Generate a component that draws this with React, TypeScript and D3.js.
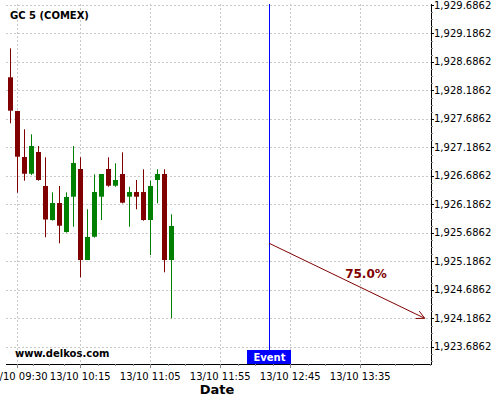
import React from "react";
import * as d3 from "d3";

const title = "GC 5 (COMEX)";
const candleTimes = ["09:25","09:30","09:35","09:40","09:45","09:50","09:55","10:00","10:05","10:10","10:15","10:20","10:25","10:30","10:35","10:40","10:45","10:50","10:55","11:00","11:05","11:10","11:15","11:20"];
const opens = [1928.418,1927.826,1927.019,1926.726,1927.107,1926.511,1925.914,1926.212,1925.704,1926.323,1926.809,1925.212,1925.621,1926.323,1926.809,1926.516,1926.721,1926.323,1926.405,1926.405,1925.914,1926.616,1926.721,1925.212];
const highs = [1928.926,1927.830,1927.505,1927.418,1927.212,1927.014,1926.400,1926.511,1926.400,1927.212,1927.014,1926.102,1926.716,1926.721,1927.014,1926.909,1927.102,1926.498,1926.616,1926.804,1926.604,1926.804,1926.804,1926.014];
const lows = [1927.611,1926.393,1926.604,1926.704,1926.604,1925.611,1925.902,1925.505,1925.692,1925.797,1924.909,1925.212,1925.604,1925.914,1926.498,1926.498,1926.207,1925.797,1926.102,1925.902,1925.300,1926.207,1924.997,1924.190];
const closes = [1927.832,1927.025,1926.726,1927.212,1926.616,1925.923,1926.212,1925.814,1926.318,1926.914,1925.212,1925.616,1926.405,1926.721,1926.516,1926.616,1926.218,1926.405,1926.323,1925.914,1926.511,1926.721,1925.212,1925.809];
const xTickTimes = ["09:30","10:15","11:05","11:55","12:45","13:35"];
const yTickValues = [1929.6862,1929.1862,1928.6862,1928.1862,1927.6862,1927.1862,1926.6862,1926.1862,1925.6862,1925.1862,1924.6862,1924.1862,1923.6862];
const eventTime = "12:30";
const arrowStart = { time: "12:30", value: 1925.505 };
const arrowEnd = { time: "14:21", value: 1924.19 };
const arrowLabel = "75.0%";
const domainTimes = ["09:22", "14:25:30"];
const yDomain = [1923.3879, 1929.7037];

const parse = (s: string) => {
  const p = s.split(":").map(Number);
  return new Date(2023, 9, 13, p[0], p[1], p[2] || 0);
};

const RED = "#800000";
const GREEN = "#008000";
const BLUE = "#0000ff";
const FONT = "DejaVu Sans, sans-serif";

export default function App() {
  const left = 6, right = 431, top = 4, bottom = 364;
  const x = d3.scaleTime().domain(domainTimes.map(parse)).range([left, right]);
  const y = d3.scaleLinear().domain(yDomain).range([bottom, top]);
  const fmt = d3.timeFormat("%d/%m %H:%M");

  const majorX = xTickTimes.map(parse);
  const minorX: Date[] = [];
  for (let i = 0; i < majorX.length - 1; i++) {
    const a = +majorX[i], b = +majorX[i + 1];
    for (let k = 1; k < 4; k++) minorX.push(new Date(a + ((b - a) * k) / 4));
  }
  {
    const step = 12.5 * 60000;
    let t = +majorX[majorX.length - 1] + step;
    while (t <= +x.domain()[1]) { minorX.push(new Date(t)); t += step; }
  }
  const minorY: number[] = [];
  for (let i = 0; i < yTickValues.length; i++) {
    for (let k = 1; k < 4; k++) {
      const v = yTickValues[i] - 0.125 * k;
      if (v >= yDomain[0]) minorY.push(v);
    }
  }

  const ax = x(parse(arrowStart.time)), ay = y(arrowStart.value);
  const bx = x(parse(arrowEnd.time)), by = y(arrowEnd.value);
  const ang = Math.atan2(by - ay, bx - ax);
  const hl = 9, ha = (27 * Math.PI) / 180;
  const h1 = [bx - hl * Math.cos(ang - ha), by - hl * Math.sin(ang - ha)];
  const h2 = [bx - hl * Math.cos(ang + ha), by - hl * Math.sin(ang + ha)];
  const ex = Math.round(x(parse(eventTime))) + 0.5;

  const bw = 5;

  return (
    <svg width={500} height={400} style={{ position: "absolute", left: 0, top: 0, background: "#fff" }} fontFamily={FONT}>
      <rect x={0} y={0} width={500} height={400} fill="#fff" />
      {/* grid */}
      {yTickValues.map((v, i) => (
        <line key={"gy" + i} x1={left} x2={right} y1={Math.round(y(v)) + 0.5} y2={Math.round(y(v)) + 0.5} stroke="#c8c8c8" strokeDasharray="2,2" />
      ))}
      {majorX.map((t, i) => (
        <line key={"gx" + i} x1={Math.round(x(t)) + 0.5} x2={Math.round(x(t)) + 0.5} y1={top} y2={bottom} stroke="#c8c8c8" strokeDasharray="2,2" />
      ))}
      {/* candles */}
      {candleTimes.map((s, i) => {
        const cx = Math.round(x(parse(s)));
        const up = closes[i] >= opens[i];
        const col = up ? GREEN : RED;
        const yt = y(Math.max(opens[i], closes[i]));
        const yb = y(Math.min(opens[i], closes[i]));
        return (
          <g key={"c" + i}>
            <line x1={cx + 0.5} x2={cx + 0.5} y1={y(highs[i])} y2={y(lows[i])} stroke={col} strokeWidth={1} />
            <rect x={cx - 2} y={yt} width={bw} height={Math.max(1, yb - yt)} fill={col} />
          </g>
        );
      })}
      {/* event line */}
      <line x1={ex} x2={ex} y1={top} y2={350} stroke={BLUE} strokeWidth={1} />
      {/* arrow */}
      <line x1={ax} y1={ay} x2={bx} y2={by} stroke={RED} strokeWidth={1} />
      <polyline points={`${h1[0]},${h1[1]} ${bx},${by} ${h2[0]},${h2[1]}`} fill="none" stroke={RED} strokeWidth={1} />
      <text x={366} y={278} textAnchor="middle" fontSize={12} fontWeight="bold" fill={RED}>{arrowLabel}</text>
      {/* event box */}
      <rect x={ex - 22.5} y={350} width={44} height={14} fill={BLUE} />
      <text x={ex} y={361} textAnchor="middle" fontSize={10} fontWeight="bold" fill="#fff">Event</text>
      {/* axes */}
      <line x1={left} x2={right} y1={bottom + 0.5} y2={bottom + 0.5} stroke="#000" />
      <line x1={right + 0.5} x2={right + 0.5} y1={top} y2={bottom + 1} stroke="#000" />
      {yTickValues.map((v, i) => (
        <g key={"yt" + i}>
          <line x1={right} x2={right + 3} y1={Math.round(y(v)) + 0.5} y2={Math.round(y(v)) + 0.5} stroke="#000" />
          <text x={434} y={y(v) + 3.5} fontSize={10} fill="#000">{d3.format(",.4f")(v)}</text>
        </g>
      ))}
      {minorY.map((v, i) => (
        <line key={"my" + i} x1={right} x2={right + 2} y1={Math.round(y(v)) + 0.5} y2={Math.round(y(v)) + 0.5} stroke="#888" />
      ))}
      {majorX.map((t, i) => (
        <g key={"xt" + i}>
          <line x1={Math.round(x(t)) + 0.5} x2={Math.round(x(t)) + 0.5} y1={bottom} y2={bottom + 4} stroke="#888" />
          <text x={x(t)} y={380} textAnchor="middle" fontSize={10} fill="#000">{fmt(t)}</text>
        </g>
      ))}
      {minorX.map((t, i) => (
        <line key={"mx" + i} x1={Math.round(x(t)) + 0.5} x2={Math.round(x(t)) + 0.5} y1={bottom} y2={bottom + 2} stroke="#888" />
      ))}
      <text x={217} y={394} textAnchor="middle" fontSize={13} fontWeight="bold" fill="#000">Date</text>
      <text x={10} y={19} fontSize={10} fontWeight="bold" fill="#000">{title}</text>
      <text x={15} y={357} fontSize={10} fontWeight="bold" fill="#000">www.delkos.com</text>
    </svg>
  );
}
